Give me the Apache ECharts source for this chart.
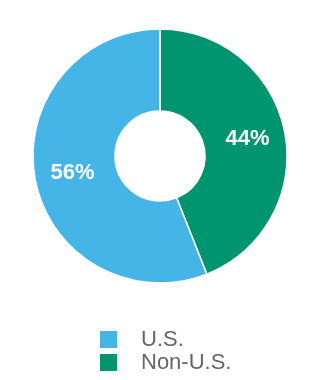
<!DOCTYPE html>
<html>
<head>
<meta charset="utf-8">
<script src="https://cdn.jsdelivr.net/npm/echarts@6/dist/echarts.min.js"></script>
<style>html,body{margin:0;padding:0;background:#fff;}#c{width:320px;height:380px;}</style>
</head>
<body>
<div id="c"></div>
<script>
const categories = ['Non-U.S.', 'U.S.'];
const values = [44, 56];
const legendOrder = ['U.S.', 'Non-U.S.'];
const colors = { 'U.S.': '#45b4e6', 'Non-U.S.': '#00946f' };

const chart = echarts.init(document.getElementById('c'), null, { renderer: 'canvas' });
chart.setOption({
  animation: false,
  legend: {
    data: legendOrder,
    orient: 'vertical',
    left: 98,
    top: 327,
    padding: 0,
    itemWidth: 19,
    itemHeight: 19,
    itemGap: -2,
    icon: 'rect',
    textStyle: { fontSize: 22, lineHeight: 19, color: '#666', fontFamily: 'Liberation Sans, Arial, sans-serif', padding: [6, 0, 0, 18] }
  },
  series: [{
    type: 'pie',
    center: [160, 156],
    radius: [45, 127],
    startAngle: 90,
    clockwise: true,
    silent: true,
    itemStyle: { borderColor: '#fff', borderWidth: 1.5 },
    label: {
      position: 'inside',
      formatter: '{c}%',
      color: '#fff',
      fontSize: 22,
      fontWeight: 'bold',
      fontFamily: 'Liberation Sans, Arial, sans-serif'
    },
    labelLine: { show: false },
    data: categories.map((n, i) => ({ name: n, value: values[i], itemStyle: { color: colors[n] } }))
  }]
});
</script>
</body>
</html>
